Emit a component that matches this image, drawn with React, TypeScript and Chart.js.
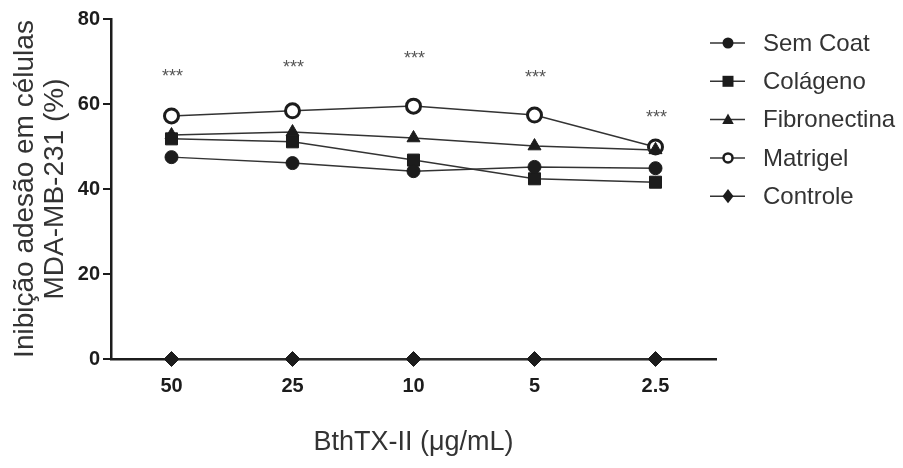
import React, { useEffect, useRef } from 'react';
import { Chart, registerables } from 'chart.js';

Chart.register(...registerables);

const categories = ['50', '25', '10', '5', '2.5'];
const seriesNames = ['Sem Coat', 'Colágeno', 'Fibronectina', 'Matrigel', 'Controle'];
const semCoat = [47.5, 46.1, 44.2, 45.2, 44.9];
const colageno = [51.8, 51.1, 46.8, 42.4, 41.6];
const fibronectina = [52.7, 53.4, 52.0, 50.1, 49.2];
const matrigel = [57.2, 58.4, 59.5, 57.4, 49.9];
const controle = [0, 0, 0, 0, 0];
const significance = ['***', '***', '***', '***', '***'];
const significanceY = [67.5, 69.6, 71.8, 67.3, 57.9];
const yMin = 0;
const yMax = 80;
const yStep = 20;
const yTitle = ['Inibição adesão em células', 'MDA-MB-231 (%)'];
const xTitle = 'BthTX-II (μg/mL)';

const FONT = "'Liberation Sans', Arial, Helvetica, sans-serif";
const INK = '#1c1c1c';
const TEXT = '#333333';

type MarkerStyle = {
  shape: 'circle' | 'rect' | 'triangle' | 'diamond';
  filled: boolean;
};

const markerStyles: MarkerStyle[] = [
  { shape: 'circle', filled: true },
  { shape: 'rect', filled: true },
  { shape: 'triangle', filled: true },
  { shape: 'circle', filled: false },
  { shape: 'diamond', filled: true },
];

function drawMarker(ctx: CanvasRenderingContext2D, m: MarkerStyle, x: number, y: number, s: number) {
  ctx.save();
  ctx.beginPath();
  if (m.shape === 'circle') {
    ctx.arc(x, y, m.filled ? s : s - 1, 0, Math.PI * 2);
  } else if (m.shape === 'rect') {
    ctx.rect(x - s, y - s, 2 * s, 2 * s);
  } else if (m.shape === 'triangle') {
    ctx.moveTo(x, y - s * 1.1);
    ctx.lineTo(x + s * 1.05, y + s * 0.8);
    ctx.lineTo(x - s * 1.05, y + s * 0.8);
    ctx.closePath();
  } else {
    ctx.moveTo(x, y - s * 1.3);
    ctx.lineTo(x + s, y);
    ctx.lineTo(x, y + s * 1.3);
    ctx.lineTo(x - s, y);
    ctx.closePath();
  }
  if (m.filled) {
    ctx.fillStyle = INK;
    ctx.fill();
  } else {
    ctx.fillStyle = '#ffffff';
    ctx.fill();
    ctx.lineWidth = 2.5;
    ctx.strokeStyle = INK;
    ctx.stroke();
  }
  ctx.restore();
}

const legendPlugin = {
  id: 'customLegend',
  afterDraw(chart: any) {
    const ctx: CanvasRenderingContext2D = chart.ctx;
    const area = chart.chartArea;
    const x0 = area.right - 6;
    const top = 43;
    const gap = 38.3;
    ctx.save();
    seriesNames.forEach((name, i) => {
      const y = top + i * gap;
      ctx.beginPath();
      ctx.strokeStyle = '#333';
      ctx.lineWidth = 1.5;
      ctx.moveTo(x0, y);
      ctx.lineTo(x0 + 35, y);
      ctx.stroke();
      drawMarker(ctx, markerStyles[i], x0 + 18, y, 5.5);
      ctx.fillStyle = TEXT;
      ctx.font = `24px ${FONT}`;
      ctx.textBaseline = 'middle';
      ctx.textAlign = 'left';
      ctx.fillText(name, x0 + 53, y + 1);
    });
    ctx.restore();
  },
};

const significancePlugin = {
  id: 'significance',
  afterDatasetsDraw(chart: any) {
    const ctx: CanvasRenderingContext2D = chart.ctx;
    const xs = chart.scales.x;
    const ys = chart.scales.y;
    ctx.save();
    ctx.fillStyle = '#555';
    ctx.font = `18px ${FONT}`;
    ctx.textAlign = 'center';
    ctx.textBaseline = 'alphabetic';
    significance.forEach((txt, i) => {
      const x = xs.getPixelForValue(i);
      const y = ys.getPixelForValue(significanceY[i]);
      ctx.fillText(txt, x + 1, y + 10);
    });
    ctx.restore();
  },
};

function makeDataset(label: string, data: number[], i: number) {
  const m = markerStyles[i];
  const pointStyle = m.shape === 'diamond' ? 'rectRot' : m.shape;
  let radius = 6.5;
  if (m.shape === 'rect') radius = 8.5;
  if (m.shape === 'triangle') radius = 7.5;
  if (m.shape === 'circle' && !m.filled) radius = 7;
  if (m.shape === 'diamond') radius = 7.5;
  return {
    label,
    data,
    borderColor: '#333',
    borderWidth: 1.5,
    pointStyle,
    pointRadius: radius,
    pointHoverRadius: radius,
    pointBackgroundColor: m.filled ? INK : '#ffffff',
    pointBorderColor: INK,
    pointBorderWidth: m.filled ? 1 : 3,
    tension: 0,
    clip: false,
    fill: false,
  };
}

export default function App() {
  const canvasRef = useRef<HTMLCanvasElement | null>(null);

  useEffect(() => {
    if (!canvasRef.current) return;
    const chart = new Chart(canvasRef.current, {
      type: 'line',
      data: {
        labels: categories,
        datasets: [
          makeDataset(seriesNames[0], semCoat, 0),
          makeDataset(seriesNames[1], colageno, 1),
          makeDataset(seriesNames[2], fibronectina, 2),
          makeDataset(seriesNames[3], matrigel, 3),
          makeDataset(seriesNames[4], controle, 4),
        ] as any,
      },
      options: {
        responsive: false,
        animation: false,
        events: [],
        layout: { padding: { top: 19, right: 187, left: 0, bottom: 0 } },
        plugins: {
          legend: { display: false },
          tooltip: { enabled: false },
        },
        scales: {
          x: {
            type: 'category',
            offset: true,
            grid: { display: false, drawTicks: false },
            border: { display: true, color: INK, width: 2.5 },
            ticks: {
              color: INK,
              font: { family: FONT, size: 20, weight: 'bold' },
              padding: 15,
              maxRotation: 0,
            },
            title: {
              display: true,
              text: xTitle,
              color: TEXT,
              font: { family: FONT, size: 27 },
              padding: { top: 0, bottom: 9 },
            },
            afterFit: (s: any) => {
              s.height = 109;
            },
          },
          y: {
            min: yMin,
            max: yMax,
            grid: {
              drawOnChartArea: false,
              drawTicks: true,
              tickLength: 8,
              color: INK,
              lineWidth: 2,
            },
            border: { display: true, color: INK, width: 2.5 },
            ticks: {
              stepSize: yStep,
              color: INK,
              font: { family: FONT, size: 20, weight: 'bold' },
              padding: 3,
            },
            title: {
              display: true,
              text: yTitle,
              color: TEXT,
              font: { family: FONT, size: 28, lineHeight: 30 / 28 },
              padding: { top: 10, bottom: 0 },
            },
            afterFit: (s: any) => {
              s.width = 111;
            },
          },
        },
      } as any,
      plugins: [legendPlugin, significancePlugin],
    });
    return () => chart.destroy();
  }, []);

  return (
    <div style={{ position: 'fixed', left: 0, top: 0, width: 903, height: 468, background: '#fff' }}>
      <canvas ref={canvasRef} width={903} height={468} style={{ display: 'block' }} />
    </div>
  );
}
